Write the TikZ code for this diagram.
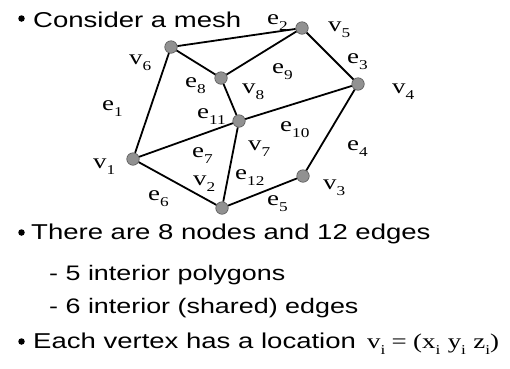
\documentclass[tikz,border=0pt]{standalone}
\usepackage{fontspec}
\setmainfont{Liberation Sans}[FakeStretch=1.28]
\newfontfamily\labserif{Liberation Serif}[FakeStretch=1.28]
\newcommand\mysub[1]{\raisebox{-0.3em}{\fontsize{13.5}{13.5}\selectfont #1}}
\definecolor{vgray}{RGB}{145,145,145}
\definecolor{vborder}{RGB}{85,85,85}
\begin{document}
\begin{tikzpicture}[x=1pt,y=-1pt,
  vert/.style={circle, fill=vgray, draw=vborder, line width=0.6pt, minimum size=12.5pt, inner sep=0pt},
  edge/.style={line width=1.8pt, black},
  lab/.style={anchor=base west, inner sep=0pt, font=\labserif\fontsize{21}{21}\selectfont},
  txt/.style={anchor=base west, inner sep=0pt, font=\fontsize{21.5}{25}\selectfont},
  subtxt/.style={anchor=base west, inner sep=0pt, font=\fontsize{21}{25}\selectfont},
  dot/.style={circle, fill=black, inner sep=0pt, minimum size=6.5pt}]
\useasboundingbox (0,0) rectangle (510,368);
% vertices
\node[vert] (v1) at (133,159) {};
\node[vert] (v2) at (222,208) {};
\node[vert] (v3) at (303,176) {};
\node[vert] (v4) at (358,84) {};
\node[vert] (v5) at (302,28) {};
\node[vert] (v6) at (171,47) {};
\node[vert] (v7) at (239,121) {};
\node[vert] (v8) at (221,78) {};
% edges
\draw[edge] (v6) -- (v5);
\draw[edge] (v5) -- (v4);
\draw[edge] (v6) -- (v8);
\draw[edge] (v8) -- (v5);
\draw[edge] (v6) -- (v1);
\draw[edge] (v8) -- (v7);
\draw[edge] (v7) -- (v4);
\draw[edge] (v1) -- (v7);
\draw[edge] (v1) -- (v2);
\draw[edge] (v2) -- (v7);
\draw[edge] (v2) -- (v3);
\draw[edge] (v3) -- (v4);
% labels
\node[lab] (lv6) at (129,64) {v\mysub{6}};
\node[lab] (le1) at (102,110) {e\mysub{1}};
\node[lab] (le2) at (267,24) {e\mysub{2}};
\node[lab] (le8) at (185,87) {e\mysub{8}};
\node[lab] (lv8) at (242,93) {v\mysub{8}};
\node[lab] (le9) at (272,73) {e\mysub{9}};
\node[lab] (le11) at (197,118) {e\mysub{11}};
\node[lab] (lv5) at (328,31) {v\mysub{5}};
\node[lab] (le3) at (347,63) {e\mysub{3}};
\node[lab] (lv4) at (392,93) {v\mysub{4}};
\node[lab] (lv1) at (93,168) {v\mysub{1}};
\node[lab] (le6) at (148,200) {e\mysub{6}};
\node[lab] (le10) at (280,131) {e\mysub{10}};
\node[lab] (le7) at (192,157) {e\mysub{7}};
\node[lab] (lv7) at (248,150) {v\mysub{7}};
\node[lab] (lv2) at (193,185) {v\mysub{2}};
\node[lab] (le12) at (235,179) {e\mysub{12}};
\node[lab] (le5) at (267,205) {e\mysub{5}};
\node[lab] (le4) at (347,150) {e\mysub{4}};
\node[lab] (lv3) at (323,189) {v\mysub{3}};
% text
\node[dot] (b1) at (21.5,18.5) {};
\node[txt] (t1) at (33,27) {Consider a mesh};
\node[dot] (b2) at (21.5,232.5) {};
\node[txt] (t2) at (31,239) {There are 8 nodes and 12 edges};
\node[subtxt] (t3) at (49,280) {- 5 interior polygons};
\node[subtxt] (t4) at (49,313) {- 6 interior (shared) edges};
\node[dot] (b3) at (21.5,341.5) {};
\node[txt] (t5) at (33,348) {Each vertex has a location};
\node[lab] (f5) at (367,348) {v\mysub{i}\hspace{0.3em}=\hspace{0.3em}(x\mysub{i}\hspace{0.35em}y\mysub{i}\hspace{0.35em}z\mysub{i})};
\end{tikzpicture}
\end{document}
